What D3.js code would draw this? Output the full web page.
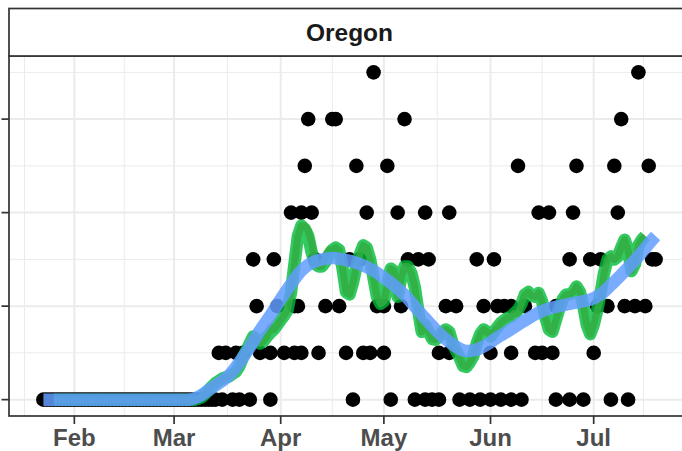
<!DOCTYPE html>
<html><head><meta charset="utf-8">
<script src="https://cdn.jsdelivr.net/npm/d3@7"></script>
<style>body{margin:0;background:#fff}svg{display:block}</style>
</head><body>
<svg id="chart" width="682" height="451"></svg>
<script>
const facetTitle = "Oregon";
const monthTicks = ["2020-02-01","2020-03-01","2020-04-01","2020-05-01","2020-06-01","2020-07-01"];
const monthLabels = ["Feb","Mar","Apr","May","Jun","Jul"];
const yMajorTicks = [0, 2, 4, 6];
const yMinorTicks = [1, 3, 5, 7];
const firstDay = "2020-01-23";
const lastDay = "2020-07-19";

// daily counts (dots): dates (2020, MM-DD) grouped by value
const count0Days = ["01-23","01-24","01-25","01-26","01-27","01-28","01-29","01-30","01-31",
  "02-01","02-02","02-03","02-04","02-05","02-06","02-07","02-08","02-09","02-10","02-11","02-12","02-13","02-14",
  "02-15","02-16","02-17","02-18","02-19","02-20","02-21","02-22","02-23","02-24","02-25","02-26","02-27","02-28","02-29",
  "03-01","03-02","03-03","03-04","03-05","03-06","03-07","03-08","03-09","03-10","03-11","03-12","03-13",
  "03-15","03-18","03-20","03-23","03-29","04-22","05-03","05-10","05-13","05-15","05-17","05-23","05-26","05-29",
  "06-01","06-04","06-07","06-10","06-20","06-24","06-28","07-06","07-11"];
const count1Days = ["03-14","03-16","03-19","03-21","03-26","03-29","04-02","04-05","04-07","04-12","04-20","04-25",
  "04-27","05-01","05-17","05-20","06-01","06-07","06-14","06-16","06-19","07-01"];
const count2Days = ["03-25","03-31","04-05","04-06","04-14","04-18","04-29","05-01","05-06","05-19","05-22","05-30",
  "06-03","06-05","06-07","06-11","06-20","07-02","07-05","07-10","07-13","07-16"];
const count3Days = ["03-24","03-30","04-11","04-21","04-24","05-08","05-11","05-14","05-28","06-02","06-24","06-30",
  "07-03","07-18","07-19"];
const count4Days = ["04-04","04-07","04-10","04-26","05-05","05-13","05-20","06-15","06-18","06-25","07-08"];
const count5Days = ["04-08","04-23","05-02","06-09","06-26","07-07","07-17"];
const count6Days = ["04-09","04-16","04-17","05-07","07-09"];
const count7Days = ["04-28","07-14"];

// 7-day averages (one value per day from avgStart; flat zero from avgFlatStart)
const avgFlatStart = "2020-01-26";
const avgStart = "2020-03-07";
const greenValues = [0.0,0.02,0.05,0.12,0.2,0.28,0.35,0.4,0.45,0.48,0.5,0.55,0.6,0.72,0.9,1.05,1.2,1.35,1.3,1.2,
  1.25,1.35,1.43,1.5,1.6,1.7,1.8,1.92,2.3,2.9,3.5,3.72,3.65,3.5,3.15,2.9,2.85,2.85,2.95,3.1,
  3.2,3.25,3.2,2.8,2.3,2.25,2.5,2.85,3.1,3.3,3.25,3.0,2.6,2.2,2.05,2.1,2.45,2.8,2.75,2.2,
  2.6,2.85,2.85,2.7,2.4,1.9,1.45,1.6,1.45,1.3,1.28,1.35,1.45,1.5,1.45,1.2,1.05,0.9,0.72,0.7,
  0.8,0.93,1.2,1.4,1.5,1.45,1.35,1.45,1.55,1.64,1.7,1.75,1.78,1.85,1.92,2.05,2.25,2.3,2.22,2.2,
  2.28,2.1,1.75,1.5,1.45,1.7,1.95,2.15,2.25,2.25,2.3,2.42,2.3,2.0,1.6,1.4,1.6,1.9,2.28,2.7,
  3.0,3.06,3.0,3.06,3.25,3.42,3.2,2.75,2.9,3.3,3.42,3.5];
const redValues = [0.0,0.02,0.05,0.12,0.2,0.28,0.35,0.4,0.45,0.48,0.5,0.55,0.6,0.72,0.9,1.05,1.2,1.35,1.3,1.2,
  1.25,1.35,1.55,1.5,1.6,1.7,1.8,1.92,2.3,2.9,3.5,3.72,3.72,3.62,3.35,2.9,2.85,2.85,3.05,3.2,
  3.2,3.25,3.2,2.8,2.3,2.25,2.5,2.85,3.1,3.3,3.25,3.0,2.6,2.2,2.05,2.1,2.45,2.8,2.75,2.2,
  2.6,2.85,2.85,2.7,2.4,1.9,1.45,1.6,1.45,1.3,1.28,1.35,1.45,1.5,1.45,1.2,1.05,0.9,0.72,0.7,
  0.8,0.93,1.2,1.4,1.5,1.45,1.35,1.45,1.55,1.64,1.7,1.75,1.78,1.85,1.85,2.05,2.25,2.3,2.22,2.2,
  2.28,2.1,1.75,1.5,1.45,1.7,1.95,2.15,2.25,2.25,2.3,2.42,2.3,2.0,1.6,1.4,1.6,1.9,2.15,2.7,
  3.0,3.06,3.0,3.06,3.25,3.42,3.2,2.75,2.9,3.3,3.42,3.5];

// smoothed trend (blue)
const smoothDates = ["01-23","03-05","03-08","03-11","03-14","03-17","03-20","03-23","03-26","03-29","04-01","04-04",
  "04-07","04-10","04-13","04-16","04-19","04-22","04-25","04-28","05-01","05-04","05-07","05-10","05-13","05-16",
  "05-19","05-22","05-25","05-28","05-31","06-03","06-06","06-09","06-12","06-15","06-18","06-21","06-24","06-27",
  "06-30","07-03","07-06","07-09","07-12","07-15","07-18","07-19"];
const smoothValues = [0,0,0.06,0.2,0.35,0.52,0.8,1.12,1.48,1.8,2.15,2.47,
  2.76,2.93,3.0,3.03,3.0,2.95,2.87,2.76,2.61,2.44,2.24,1.99,1.74,1.5,
  1.29,1.13,1.04,1.07,1.18,1.33,1.46,1.6,1.74,1.86,1.95,2.0,2.05,2.09,
  2.14,2.25,2.45,2.67,2.9,3.15,3.42,3.5];

const parse = d3.utcParse("%Y-%m-%d");
const md = s => parse("2020-" + s);
const svg = d3.select("#chart");

const PL = 9, PR = 690, PT = 56, PB = 416;
const x = d3.scaleUtc()
  .domain([d3.utcDay.offset(parse(firstDay), -10), d3.utcDay.offset(parse(lastDay), 10)])
  .range([PL, PR]);
const y = d3.scaleLinear().domain([-0.35, 7.35]).range([PB, PT]);

// gridlines
const majors = monthTicks.map(parse);
const step = majors[1] - majors[0];
const ext = [new Date(+majors[0] - step), ...majors, new Date(+majors[majors.length-1] + step)];
const minors = d3.pairs(ext).map(([a, b]) => new Date((+a + +b) / 2));
const grid = svg.append("g");
grid.selectAll(".vmin").data(minors).join("line")
  .attr("x1", d => x(d)).attr("x2", d => x(d)).attr("y1", PT).attr("y2", PB)
  .attr("stroke", "#EBEBEB").attr("stroke-width", 1);
grid.selectAll(".hmin").data(yMinorTicks).join("line")
  .attr("x1", PL).attr("x2", PR).attr("y1", d => y(d)).attr("y2", d => y(d))
  .attr("stroke", "#EBEBEB").attr("stroke-width", 1);
grid.selectAll(".vmaj").data(majors).join("line")
  .attr("x1", d => x(d)).attr("x2", d => x(d)).attr("y1", PT).attr("y2", PB)
  .attr("stroke", "#EBEBEB").attr("stroke-width", 2);
grid.selectAll(".hmaj").data(yMajorTicks).join("line")
  .attr("x1", PL).attr("x2", PR).attr("y1", d => y(d)).attr("y2", d => y(d))
  .attr("stroke", "#EBEBEB").attr("stroke-width", 2);

svg.append("clipPath").attr("id", "panel").append("rect")
  .attr("x", PL).attr("y", PT).attr("width", PR - PL).attr("height", PB - PT);
const plot = svg.append("g").attr("clip-path", "url(#panel)");

// dots
const groups = [count0Days, count1Days, count2Days, count3Days, count4Days, count5Days, count6Days, count7Days];
const points = [];
groups.forEach((days, v) => days.forEach(s => points.push({date: md(s), v})));
plot.append("g").selectAll("circle").data(points).join("circle")
  .attr("cx", d => x(d.date)).attr("cy", d => y(d.v)).attr("r", 7.3).attr("fill", "#000");

// average series
const avg0 = parse(avgStart);
const mkSeries = vals => [{date: parse(avgFlatStart), v: 0}]
  .concat(vals.map((v, i) => ({date: d3.utcDay.offset(avg0, i), v})));
const line = d3.line().x(d => x(d.date)).y(d => y(d.v));

plot.append("path").datum(mkSeries(redValues)).attr("d", line)
  .attr("fill", "none").attr("stroke", "#F8766D").attr("stroke-width", 7)
  .attr("stroke-opacity", 0.85).attr("stroke-linejoin", "round");
plot.append("path").datum(mkSeries(greenValues)).attr("d", line)
  .attr("fill", "none").attr("stroke", "#00BA38").attr("stroke-width", 12.5)
  .attr("stroke-opacity", 0.8).attr("stroke-linejoin", "round");

const smooth = smoothDates.map((s, i) => ({date: md(s), v: smoothValues[i]}));
plot.append("path").datum(smooth)
  .attr("d", d3.line().x(d => x(d.date)).y(d => y(d.v)).curve(d3.curveMonotoneX))
  .attr("fill", "none").attr("stroke", "#619CFF").attr("stroke-width", 12.5)
  .attr("stroke-opacity", 0.85).attr("stroke-linejoin", "round").attr("stroke-linecap", "butt");

// panel border
svg.append("rect").attr("x", PL).attr("y", PT).attr("width", PR - PL).attr("height", PB - PT)
  .attr("fill", "none").attr("stroke", "#333333").attr("stroke-width", 1.7);

// strip
svg.append("rect").attr("x", PL).attr("y", 8.5).attr("width", PR - PL).attr("height", PT - 8.5)
  .attr("fill", "#fff").attr("stroke", "#333333").attr("stroke-width", 1.7);
svg.append("text").attr("x", (PL + PR) / 2).attr("y", 41.3).attr("text-anchor", "middle")
  .attr("font-family", "'Liberation Sans', Arial, sans-serif").attr("font-weight", "bold")
  .attr("font-size", 24.5).attr("fill", "#1A1A1A").text(facetTitle);

// x axis ticks + labels
const xa = svg.append("g");
xa.selectAll("line").data(majors).join("line")
  .attr("x1", d => x(d)).attr("x2", d => x(d)).attr("y1", PB).attr("y2", PB + 8)
  .attr("stroke", "#333333").attr("stroke-width", 1.7);
xa.selectAll("text").data(majors).join("text")
  .attr("x", d => x(d)).attr("y", 445.5).attr("text-anchor", "middle")
  .attr("font-family", "'Liberation Sans', Arial, sans-serif").attr("font-weight", "bold")
  .attr("font-size", 24).attr("fill", "#4D4D4D").text((d, i) => monthLabels[i]);

// y axis ticks
svg.append("g").selectAll("line").data(yMajorTicks).join("line")
  .attr("x1", PL - 7.5).attr("x2", PL).attr("y1", d => y(d)).attr("y2", d => y(d))
  .attr("stroke", "#333333").attr("stroke-width", 1.7);
</script>
</body></html>
